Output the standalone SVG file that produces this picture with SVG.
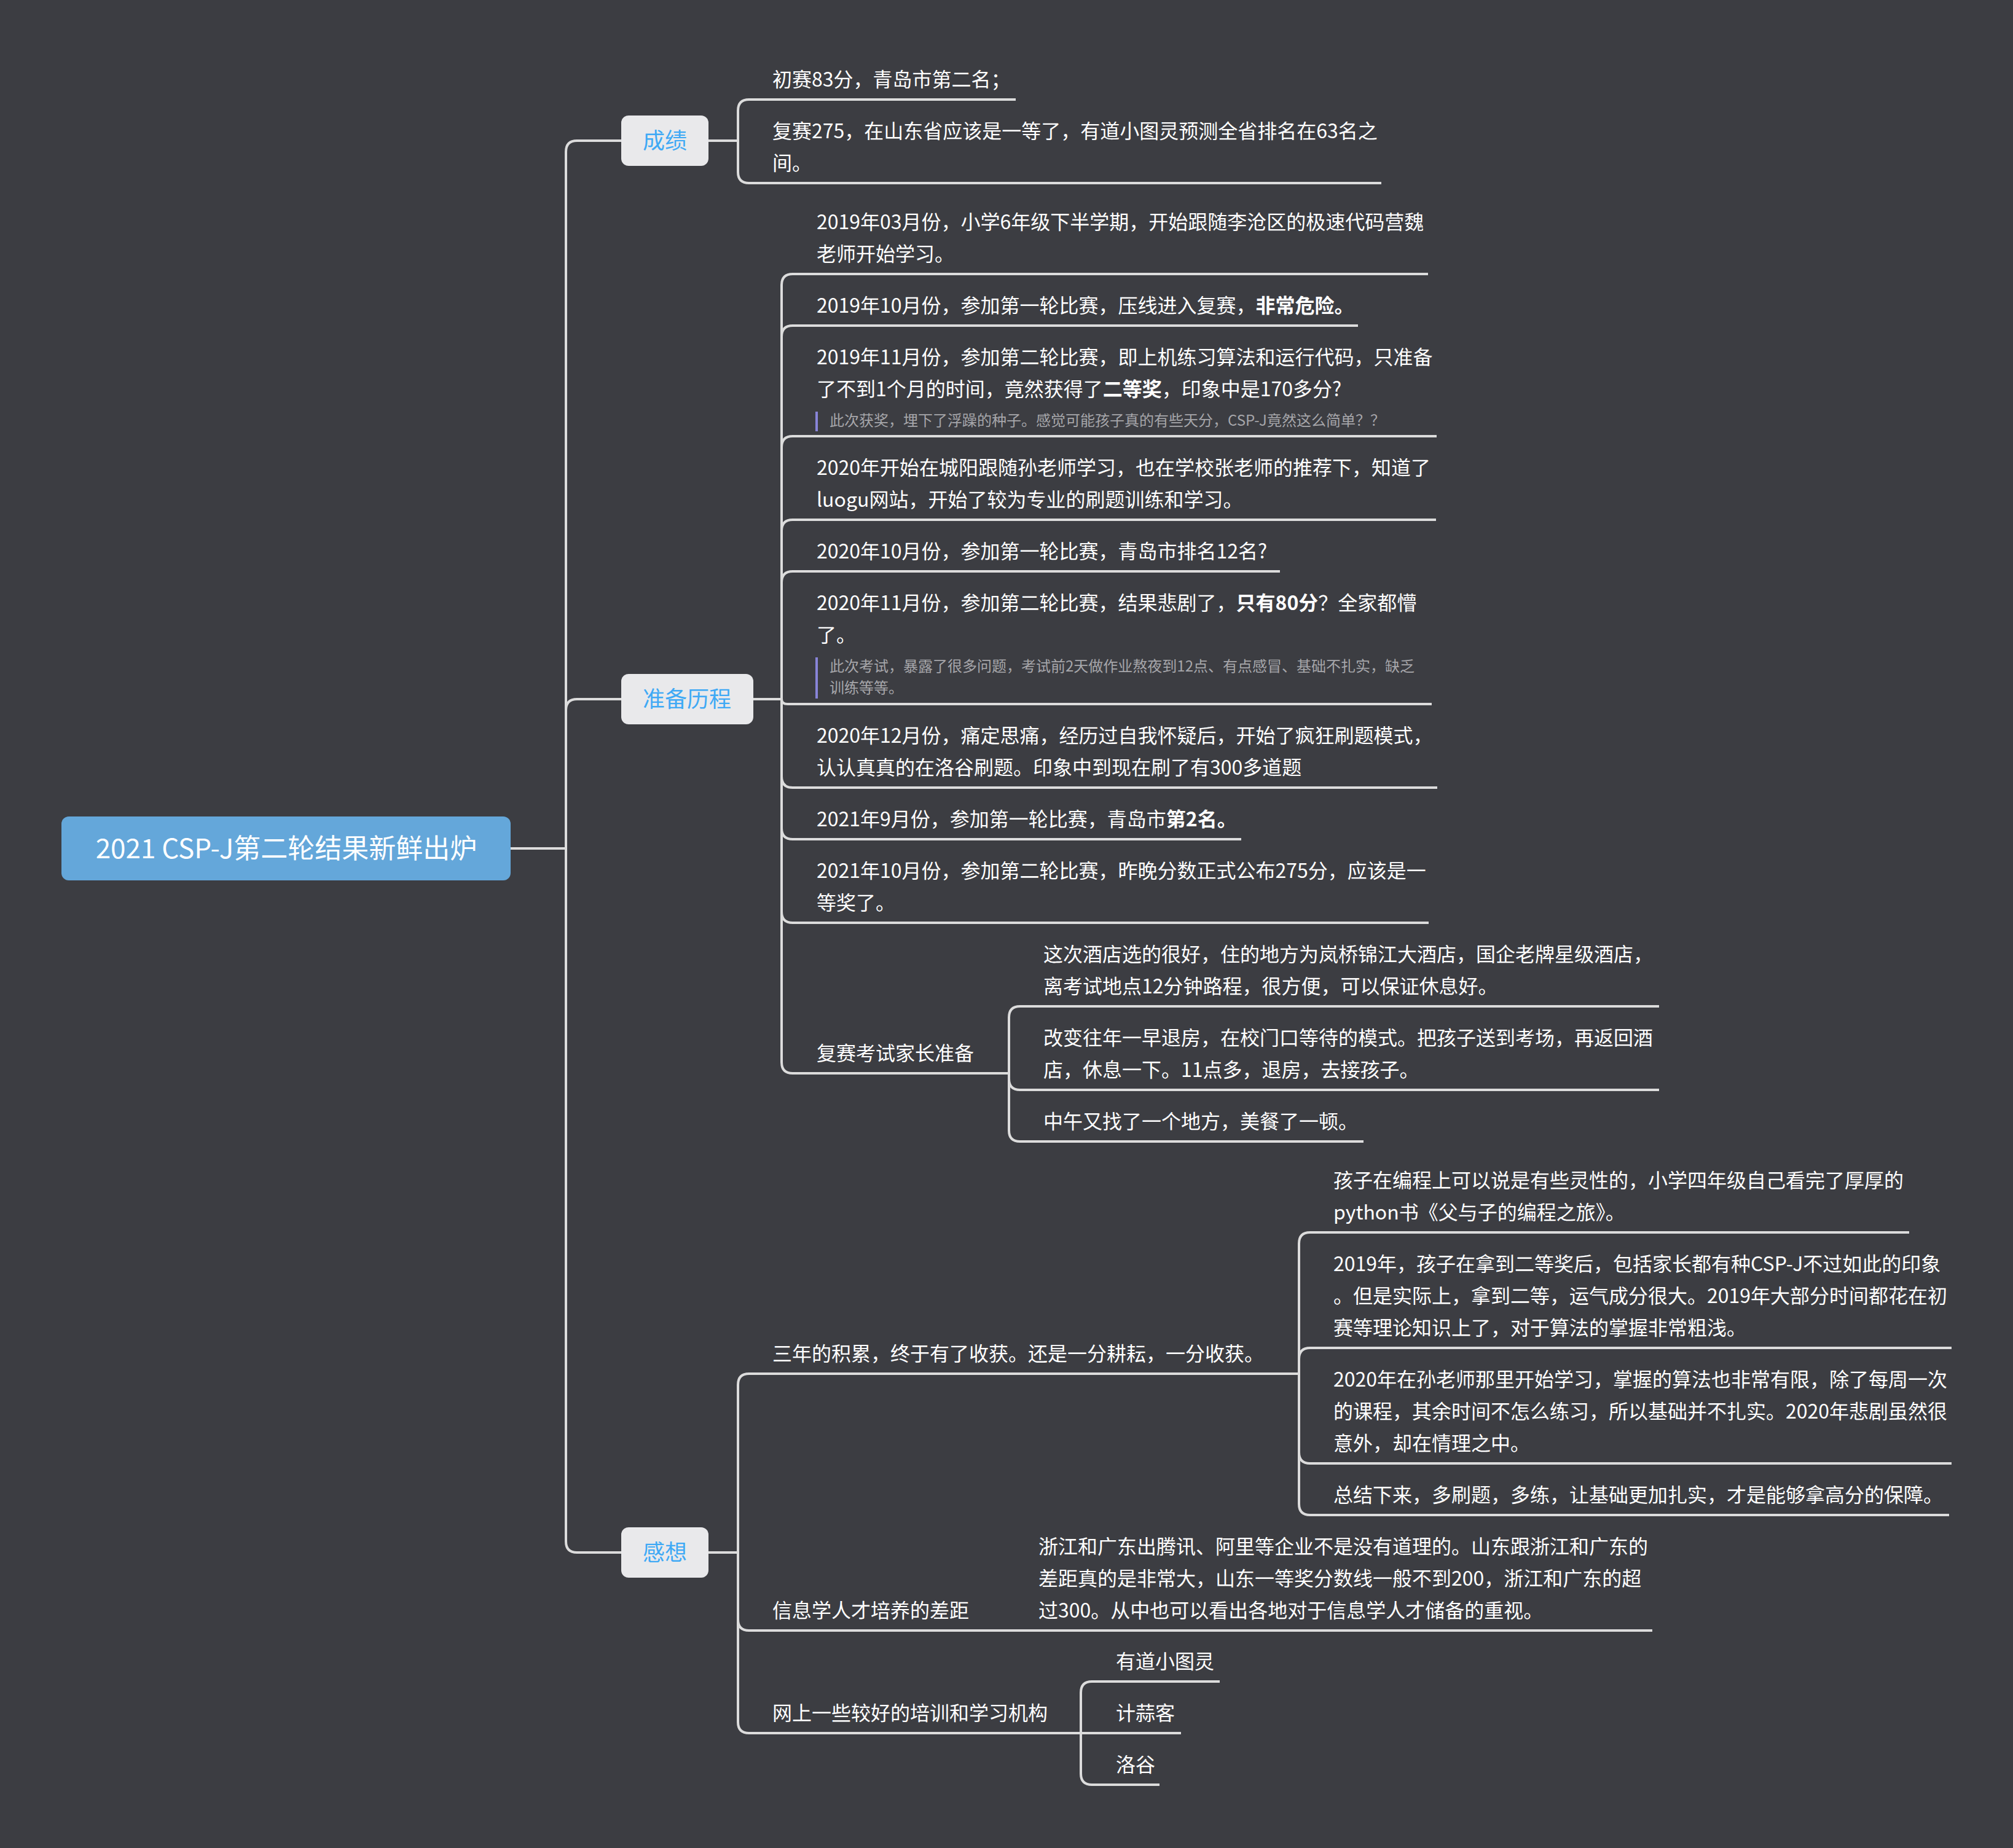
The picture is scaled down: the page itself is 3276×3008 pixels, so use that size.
<svg xmlns="http://www.w3.org/2000/svg" width="3276" height="3008" viewBox="0 0 3276 3008">
<style>
text{font-family:"Noto Sans CJK SC","Noto Sans",sans-serif;}
.t{font-size:32px;fill:#ffffff;}
.b{font-weight:bold;}
.n{font-size:24px;fill:#a6a6aa;}
.bar{fill:#8884d8;}
.br{fill:#e9e9eb;}
.bt{font-size:36px;fill:#3fa9f5;text-anchor:middle;}
.rt{font-size:44px;fill:#ffffff;text-anchor:middle;}
.c{fill:none;stroke:#dcdcdc;stroke-width:4;}
</style>
<rect width="3276" height="3008" fill="#3c3d42"/>
<g id="connectors" class="c">
<path d="M831 1381H921"/>
<path d="M921 1381V247Q921 229 939 229H1011"/>
<path d="M921 1381V1156Q921 1138 939 1138H1011"/>
<path d="M921 1381V2509Q921 2527 939 2527H1011"/>
<path d="M1153 229H1201V180Q1201 162 1219 162H1653"/>
<path d="M1201 229V280Q1201 298 1219 298H2248"/>
<path d="M1226 1138H1272V464Q1272 446 1290 446H2324"/>
<path d="M1272 1138V548Q1272 530 1290 530H2210"/>
<path d="M1272 1138V728Q1272 710 1290 710H2338"/>
<path d="M1272 1138V864Q1272 846 1290 846H2337"/>
<path d="M1272 1138V948Q1272 930 1290 930H2083"/>
<path d="M1272 1138Q1272 1146 1282 1146H2330"/>
<path d="M1272 1138V1264Q1272 1282 1290 1282H2339"/>
<path d="M1272 1138V1348Q1272 1366 1290 1366H2020"/>
<path d="M1272 1138V1484Q1272 1502 1290 1502H2325"/>
<path d="M1272 1138V1729Q1272 1747 1290 1747H1642"/>
<path d="M1642 1747V1656Q1642 1638 1660 1638H2700"/>
<path d="M1642 1747V1756Q1642 1774 1660 1774H2700"/>
<path d="M1642 1747V1840Q1642 1858 1660 1858H2219"/>
<path d="M1153 2527H1201V2254Q1201 2236 1219 2236H2114"/>
<path d="M1201 2527V2636Q1201 2654 1219 2654H2689"/>
<path d="M1201 2527V2803Q1201 2821 1219 2821H1759"/>
<path d="M2114 2236V2024Q2114 2006 2132 2006H3107"/>
<path d="M2114 2236V2212Q2114 2194 2132 2194H3176"/>
<path d="M2114 2236V2364Q2114 2382 2132 2382H3176"/>
<path d="M2114 2236V2448Q2114 2466 2132 2466H3172"/>
<path d="M1759 2821V2755Q1759 2737 1777 2737H1985"/>
<path d="M1759 2821H1922"/>
<path d="M1759 2821V2887Q1759 2905 1777 2905H1887"/>
</g>
<g id="root">
<rect x="100" y="1329" width="731" height="104" rx="12" fill="#64a7da"/>
<text class="rt" x="466" y="1397">2021 CSP-J第二轮结果新鲜出炉</text>
</g>
<g id="chengji">
<rect class="br" x="1011" y="188" width="142" height="82" rx="12"/>
<text class="bt" x="1082" y="242">成绩</text>
</g>
<g id="zhunbei">
<rect class="br" x="1011" y="1097" width="215" height="82" rx="12"/>
<text class="bt" x="1118" y="1151">准备历程</text>
</g>
<g id="ganxiang">
<rect class="br" x="1011" y="2486" width="142" height="82" rx="12"/>
<text class="bt" x="1082" y="2540">感想</text>
</g>
<g id="s1"><text class="t" x="1257" y="141">初赛83分，青岛市第二名；</text></g>
<g id="s2"><text class="t" x="1257" y="225">复赛275，在山东省应该是一等了，有道小图灵预测全省排名在63名之</text><text class="t" x="1257" y="277">间。</text></g>
<g id="a"><text class="t" x="1329" y="373">2019年03月份，小学6年级下半学期，开始跟随李沧区的极速代码营魏</text><text class="t" x="1329" y="425">老师开始学习。</text></g>
<g id="b"><text class="t" x="1329" y="509">2019年10月份，参加第一轮比赛，压线进入复赛，<tspan class="b">非常危险。</tspan></text></g>
<g id="c"><text class="t" x="1329" y="593">2019年11月份，参加第二轮比赛，即上机练习算法和运行代码，只准备</text><text class="t" x="1329" y="645">了不到1个月的时间，竟然获得了<tspan class="b">二等奖</tspan>，印象中是170多分?</text>
<rect class="bar" x="1327" y="670" width="4" height="32"/><text class="n" x="1350" y="693">此次获奖，埋下了浮躁的种子。感觉可能孩子真的有些天分，CSP-J竟然这么简单？？</text></g>
<g id="d"><text class="t" x="1329" y="773">2020年开始在城阳跟随孙老师学习，也在学校张老师的推荐下，知道了</text><text class="t" x="1329" y="825">luogu网站，开始了较为专业的刷题训练和学习。</text></g>
<g id="e"><text class="t" x="1329" y="909">2020年10月份，参加第一轮比赛，青岛市排名12名?</text></g>
<g id="f"><text class="t" x="1329" y="993">2020年11月份，参加第二轮比赛，结果悲剧了，<tspan class="b">只有80分</tspan>？全家都懵</text><text class="t" x="1329" y="1045">了。</text>
<rect class="bar" x="1327" y="1070" width="4" height="67"/><text class="n" x="1350" y="1093">此次考试，暴露了很多问题，考试前2天做作业熬夜到12点、有点感冒、基础不扎实，缺乏</text><text class="n" x="1350" y="1128">训练等等。</text></g>
<g id="g"><text class="t" x="1329" y="1209">2020年12月份，痛定思痛，经历过自我怀疑后，开始了疯狂刷题模式，</text><text class="t" x="1329" y="1261">认认真真的在洛谷刷题。印象中到现在刷了有300多道题</text></g>
<g id="h"><text class="t" x="1329" y="1345">2021年9月份，参加第一轮比赛，青岛市<tspan class="b">第2名。</tspan></text></g>
<g id="i"><text class="t" x="1329" y="1429">2021年10月份，参加第二轮比赛，昨晚分数正式公布275分，应该是一</text><text class="t" x="1329" y="1481">等奖了。</text></g>
<g id="j"><text class="t" x="1329" y="1726">复赛考试家长准备</text></g>
<g id="j1"><text class="t" x="1698" y="1565">这次酒店选的很好，住的地方为岚桥锦江大酒店，国企老牌星级酒店，</text><text class="t" x="1698" y="1617">离考试地点12分钟路程，很方便，可以保证休息好。</text></g>
<g id="j2"><text class="t" x="1698" y="1701">改变往年一早退房，在校门口等待的模式。把孩子送到考场，再返回酒</text><text class="t" x="1698" y="1753">店，休息一下。11点多，退房，去接孩子。</text></g>
<g id="j3"><text class="t" x="1698" y="1837">中午又找了一个地方，美餐了一顿。</text></g>
<g id="k"><text class="t" x="1257" y="2215">三年的积累，终于有了收获。还是一分耕耘，一分收获。</text></g>
<g id="k1"><text class="t" x="2170" y="1933">孩子在编程上可以说是有些灵性的，小学四年级自己看完了厚厚的</text><text class="t" x="2170" y="1985">python书《父与子的编程之旅》。</text></g>
<g id="k2"><text class="t" x="2170" y="2069">2019年，孩子在拿到二等奖后，包括家长都有种CSP-J不过如此的印象</text><text class="t" x="2170" y="2121">。但是实际上，拿到二等，运气成分很大。2019年大部分时间都花在初</text><text class="t" x="2170" y="2173">赛等理论知识上了，对于算法的掌握非常粗浅。</text></g>
<g id="k3"><text class="t" x="2170" y="2257">2020年在孙老师那里开始学习，掌握的算法也非常有限，除了每周一次</text><text class="t" x="2170" y="2309">的课程，其余时间不怎么练习，所以基础并不扎实。2020年悲剧虽然很</text><text class="t" x="2170" y="2361">意外，却在情理之中。</text></g>
<g id="k4"><text class="t" x="2170" y="2445">总结下来，多刷题，多练，让基础更加扎实，才是能够拿高分的保障。</text></g>
<g id="l"><text class="t" x="1257" y="2633">信息学人才培养的差距</text></g>
<g id="l1"><text class="t" x="1690" y="2529">浙江和广东出腾讯、阿里等企业不是没有道理的。山东跟浙江和广东的</text><text class="t" x="1690" y="2581">差距真的是非常大，山东一等奖分数线一般不到200，浙江和广东的超</text><text class="t" x="1690" y="2633">过300。从中也可以看出各地对于信息学人才储备的重视。</text></g>
<g id="m"><text class="t" x="1257" y="2800">网上一些较好的培训和学习机构</text></g>
<g id="m1"><text class="t" x="1816" y="2716">有道小图灵</text></g>
<g id="m2"><text class="t" x="1816" y="2800">计蒜客</text></g>
<g id="m3"><text class="t" x="1816" y="2884">洛谷</text></g>
</svg>
